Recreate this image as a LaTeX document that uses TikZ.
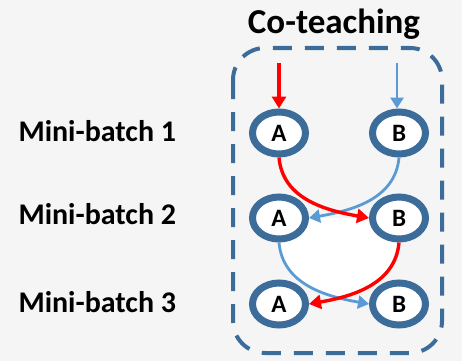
\documentclass[tikz,border=0pt]{standalone}
\usepackage{fontspec}
\setmainfont{Carlito}
\usetikzlibrary{shapes.geometric,arrows.meta}
\definecolor{bgc}{HTML}{F5F5F5}
\definecolor{dkblue}{HTML}{3B6C9A}
\definecolor{ltblue}{HTML}{5B9BD5}
\definecolor{redc}{HTML}{FF0000}
\tikzset{
  net/.style={ellipse,draw=dkblue,line width=7pt,fill=white,minimum width=53pt,minimum height=42pt,inner sep=0pt,font=\bfseries\fontsize{25}{25}\selectfont},
  lbl/.style={anchor=west,font=\bfseries\fontsize{30}{30}\selectfont},
  redarr/.style={draw=redc,line width=3.4pt,-{Triangle[length=12pt,width=14pt]}},
  bluearr/.style={draw=ltblue,line width=2.8pt,-{Triangle[length=11pt,width=13pt]}},
}
\begin{document}
\begin{tikzpicture}[x=1pt,y=-1pt]
\fill[bgc] (0,0) rectangle (462,361);
\useasboundingbox (0,0) rectangle (462,361);
\node[font=\bfseries\fontsize{35}{35}\selectfont] (title) at (334,24) {Co-teaching};
\draw[dkblue,line width=4pt,dash pattern=on 19pt off 13pt,rounded corners=32pt] (233,48) rectangle (442,353);
\node[lbl] (m1) at (15,131) {Mini-batch 1};
\node[lbl] (m2) at (15,214) {Mini-batch 2};
\node[lbl] (m3) at (15,302) {Mini-batch 3};
\coordinate (tr) at (279,63);
\coordinate (tb) at (397,63);
\path (279,133) coordinate (pA1) (399,133) coordinate (pB1)
      (279,218) coordinate (pA2) (399,218) coordinate (pB2)
      (279,304) coordinate (pA3) (399,304) coordinate (pB3);
% white lens
\begin{scope}
\clip (399,218) -- (399,244) to[out=-95,in=10] (307,304) -- (250,304) -- (250,218) -- cycle;
\clip (279,218) -- (279,244) to[out=-85,in=170] (371,304) -- (430,304) -- (430,218) -- cycle;
\fill[white] (250,218) rectangle (430,304);
\end{scope}
\node[net] (A1) at (pA1) {A};
\node[net] (B1) at (pB1) {B};
\node[net] (A2) at (pA2) {A};
\node[net] (B2) at (pB2) {B};
\node[net] (A3) at (pA3) {A};
\node[net] (B3) at (pB3) {B};
\draw[redarr] (tr) -- (A1.north);
\draw[bluearr] (tb) -- (tb |- B1.north);
\draw[bluearr] (B1.south) to[out=-95,in=10] (A2.east);
\draw[redarr] (A1.south) to[out=-85,in=170] (B2.west);
\draw[bluearr] (A2.south) to[out=-85,in=170] (B3.west);
\draw[redarr] (B2.south) to[out=-95,in=10] (A3.east);
\end{tikzpicture}
\end{document}
